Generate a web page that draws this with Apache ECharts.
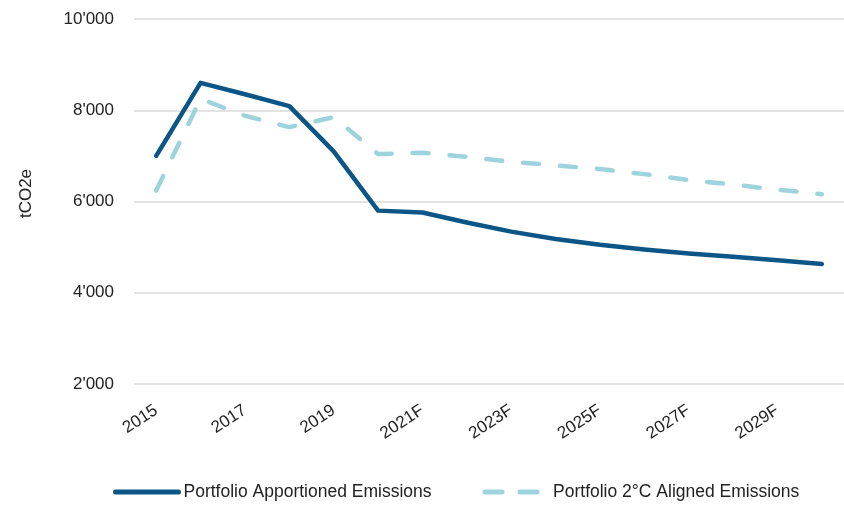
<!DOCTYPE html>
<html>
<head>
<meta charset="utf-8">
<script src="https://cdn.jsdelivr.net/npm/echarts@6/dist/echarts.min.js"></script>
<style>
  html, body { margin: 0; padding: 0; background: #fff; }
  #chart { width: 844px; height: 506px; }
</style>
</head>
<body>
<div id="chart"></div>
<script>
// Years on the horizontal axis (forecast years carry an "F")
const years = ['2015', '2016', '2017', '2018', '2019', '2020',
  '2021F', '2022F', '2023F', '2024F', '2025F', '2026F', '2027F', '2028F', '2029F', '2030F'];

// Emissions in tCO2e
const apportioned = [7000, 8600, 8350, 8090, 7100, 5800,
  5760, 5540, 5340, 5180, 5050, 4950, 4860, 4790, 4710, 4630];
const aligned2C = [6240, 8250, 7880, 7630, 7850, 7040,
  7070, 6980, 6870, 6790, 6710, 6600, 6470, 6370, 6260, 6160];

const yTicks = { min: 2000, max: 10000, step: 2000 };

const seriesNames = ['Portfolio Apportioned Emissions', 'Portfolio 2°C Aligned Emissions'];

const darkBlue = '#0b5686';
const lightBlue = '#9dd3dc';
const textColor = '#222222';
const fontFamily = 'Liberation Sans, Arial, sans-serif';

// 10000 -> 10'000
function fmtThousands(v) {
  return String(v).replace(/\B(?=(\d{3})+(?!\d))/g, "'");
}

const chart = echarts.init(document.getElementById('chart'), null, { renderer: 'canvas' });
chart.setOption({
  animation: false,
  backgroundColor: '#ffffff',
  textStyle: { fontFamily: fontFamily, color: textColor },
  grid: { left: 134, right: 0, top: 19, bottom: 122, containLabel: false },
  legend: {
    left: 108,
    bottom: 0,
    itemGap: 51,
    itemWidth: 63,
    itemHeight: 14,
    itemStyle: { opacity: 0 },
    textStyle: { fontSize: 17.5, color: textColor, fontFamily: fontFamily },
    data: [
      { name: seriesNames[0], lineStyle: { width: 5, color: darkBlue, cap: 'round' } },
      { name: seriesNames[1], lineStyle: { width: 5, color: lightBlue, type: [17, 18], cap: 'round' } }
    ]
  },
  xAxis: {
    type: 'category',
    data: years,
    boundaryGap: true,
    axisLine: { show: false },
    axisTick: { show: false },
    axisLabel: {
      interval: 1,
      rotate: 33,
      margin: 25,
      fontSize: 17,
      color: textColor,
      fontFamily: fontFamily
    }
  },
  yAxis: {
    type: 'value',
    min: yTicks.min,
    max: yTicks.max,
    interval: yTicks.step,
    name: 'tCO2e',
    nameLocation: 'middle',
    nameGap: 99,
    nameTextStyle: { fontSize: 17, color: textColor, fontFamily: fontFamily, padding: [0, 0, 0, 16] },
    axisLine: { show: false },
    axisTick: { show: false },
    splitLine: { lineStyle: { color: '#dadada', width: 1.5 } },
    axisLabel: {
      margin: 20,
      fontSize: 17,
      color: textColor,
      fontFamily: fontFamily,
      formatter: fmtThousands
    }
  },
  series: [
    {
      name: seriesNames[0],
      type: 'line',
      data: apportioned,
      symbol: 'none',
      smooth: false,
      lineStyle: { color: darkBlue, width: 4.5, cap: 'round', join: 'round' },
      itemStyle: { color: darkBlue },
      z: 3
    },
    {
      name: seriesNames[1],
      type: 'line',
      data: aligned2C,
      symbol: 'none',
      lineStyle: { color: lightBlue, width: 4.5, type: [16, 21], cap: 'round', join: 'round' },
      itemStyle: { color: lightBlue },
      z: 2
    }
  ]
});
</script>
</body>
</html>
